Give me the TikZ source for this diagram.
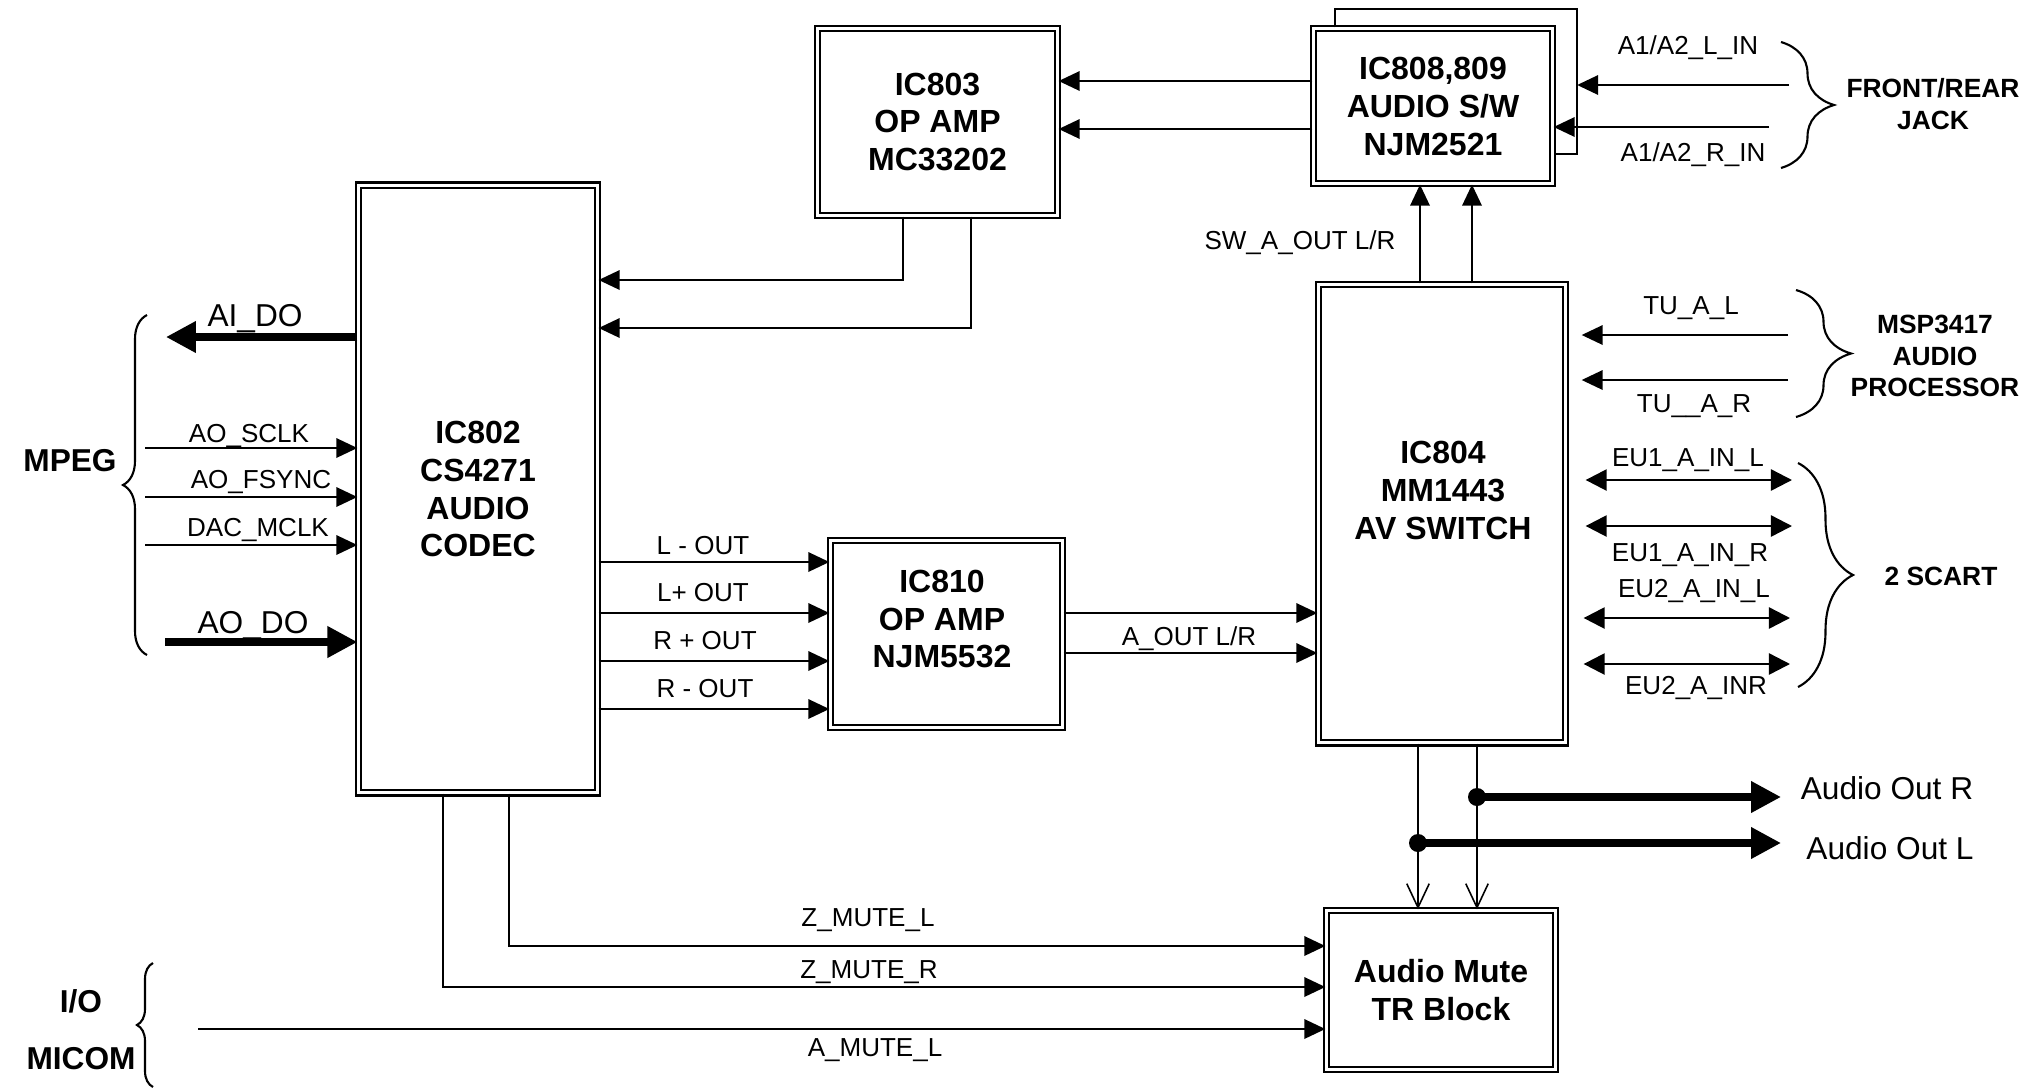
\documentclass[tikz,border=0pt]{standalone}
\usepackage{fontspec}
\setmainfont{Liberation Sans}
\usetikzlibrary{calc, positioning}
\usetikzlibrary{arrows.meta}
\usetikzlibrary{decorations.pathreplacing}

\tikzset{
  boxic/.style={draw, double, line width=0.6pt, double distance=1pt, inner sep=0pt,
    align=center, font=\bfseries\fontsize{9.1}{10.8}\selectfont},
  boxname/.style={align=center, inner sep=0pt, font=\bfseries\fontsize{9.1}{10.8}\selectfont},
  grplbl/.style={align=center, inner sep=0pt, font=\bfseries\fontsize{7.5}{8.9}\selectfont},
  sidelbl/.style={inner sep=0pt, font=\bfseries\fontsize{9}{10.8}\selectfont, text height=6.5pt, text depth=0pt},
  siglbl/.style={inner sep=0pt, font=\fontsize{7.4}{8.9}\selectfont, text height=5.3pt, text depth=0pt},
  biglbl/.style={inner sep=0pt, font=\fontsize{9}{10.8}\selectfont, text height=6.5pt, text depth=0pt},
  sigarr/.style={line width=0.7pt, -{Triangle[length=6pt,width=5.5pt]}},
  duplex/.style={line width=0.7pt, {Triangle[length=6pt,width=6pt]}-{Triangle[length=6pt,width=6pt]}},
  busarr/.style={line width=2pt, -{Triangle[length=8.5pt,width=8.5pt]}},
  taparr/.style={line width=0.45pt, -{Straight Barb[length=6.8pt,width=6.4pt]}},
  junction/.style={circle, fill, inner sep=0pt, minimum size=0.18cm},
  brc/.style={line width=0.6pt, decorate, decoration={brace, amplitude=#1}},
}

\begin{document}
\begin{tikzpicture}[x=0.01cm, y=-0.01cm]
\useasboundingbox (0,0) rectangle (2032,1087);

\node[boxic, minimum width=2.39cm, minimum height=6.07cm] (ic802) at (478,489) {IC802\\CS4271\\AUDIO\\CODEC};
\node[boxic, minimum width=2.40cm, minimum height=1.87cm] (ic803) at (937.5,122) {IC803\\OP AMP\\MC33202};
\node[boxic, minimum width=2.39cm, minimum height=1.55cm] (ic808) at (1433,106) {IC808,809\\AUDIO S/W\\NJM2521};
\node[boxic, minimum width=2.47cm, minimum height=4.58cm] (ic804) at (1442,513.5) {};
\node[boxname] (ic804t) at (1443,490) {IC804\\MM1443\\AV SWITCH};
\node[boxic, minimum width=2.32cm, minimum height=1.87cm] (ic810) at (946.5,634) {};
\node[boxname] (ic810t) at (942,619) {IC810\\OP AMP\\NJM5532};
\node[boxic, minimum width=2.29cm, minimum height=1.59cm] (mute) at (1441,990) {Audio Mute\\TR Block};

\coordinate (ic809ne) at ($(ic808.north east)+(23.5,-18.5)$);
\draw[line width=0.6pt] ($(ic808.north west)+(23,0)$) |- (ic809ne) |- ($(ic808.east)+(0,48)$);

\coordinate (aido) at (166,337);
\coordinate (sclk) at (145,448);
\coordinate (fsync) at (145,497);
\coordinate (mclk) at (145,545);
\coordinate (aodo) at (165,642);
\draw[busarr] (ic802.west |- aido) -- (aido);
\draw[sigarr] (sclk) -- (ic802.west |- sclk);
\draw[sigarr] (fsync) -- (ic802.west |- fsync);
\draw[sigarr] (mclk) -- (ic802.west |- mclk);
\draw[busarr] (aodo) -- (ic802.west |- aodo);
\node[biglbl] (laido) at (255,315) {AI\_DO};
\node[siglbl] (lsclk) at (249,433) {AO\_SCLK};
\node[siglbl] (lfsync) at (261,479) {AO\_FSYNC};
\node[siglbl] (lmclk) at (258,527) {DAC\_MCLK};
\node[biglbl] (laodo) at (253,622) {AO\_DO};
\draw[brc=0.24cm] (147,655) -- (147,315);
\node[sidelbl] (mpeg) at (70,460) {MPEG};

\coordinate (fbl) at (903,280);
\coordinate (fbr) at (971,328);
\draw[sigarr] (ic803.south -| fbl) |- (ic802.east |- fbl);
\draw[sigarr] (ic803.south -| fbr) |- (ic802.east |- fbr);

\coordinate (swo1) at (1200,81);
\coordinate (swo2) at (1200,129);
\draw[sigarr] (ic808.west |- swo1) -- (ic803.east |- swo1);
\draw[sigarr] (ic808.west |- swo2) -- (ic803.east |- swo2);

\coordinate (swa) at (1420,240);
\coordinate (swb) at (1472,240);
\draw[sigarr] (ic804.north -| swa) -- (ic808.south -| swa);
\draw[sigarr] (ic804.north -| swb) -- (ic808.south -| swb);
\node[siglbl] (lsw) at (1300,240) {SW\_A\_OUT L/R};

\coordinate (jackl) at (1789,85);
\coordinate (jackr) at (1769,127);
\draw[sigarr] (jackl) -- (jackl -| ic809ne);
\draw[sigarr] (jackr) -- (ic808.east |- jackr);
\node[siglbl] (ljackl) at (1688,45) {A1/A2\_L\_IN};
\node[siglbl] (ljackr) at (1693,152) {A1/A2\_R\_IN};
\draw[brc=0.53cm] (1781,42) -- (1781,168);
\node[grplbl] (jack) at (1933,104) {FRONT/REAR\\JACK};

\coordinate (tul) at (1788,335);
\coordinate (tur) at (1788,380);
\draw[sigarr, shorten >=0.15cm] (tul) -- (ic804.east |- tul);
\draw[sigarr, shorten >=0.15cm] (tur) -- (ic804.east |- tur);
\node[siglbl] (ltul) at (1691,305) {TU\_A\_L};
\node[siglbl] (ltur) at (1694,403) {TU\_\_A\_R};
\draw[brc=0.55cm] (1796,290) -- (1796,417);
\node[grplbl] (msp) at (1935,356) {MSP3417\\AUDIO\\PROCESSOR};

\coordinate (eu1l) at (1792,480);
\coordinate (eu1r) at (1792,526);
\coordinate (eu2l) at (1790,618);
\coordinate (eu2r) at (1790,664);
\draw[duplex, shorten >=0.19cm] (eu1l) -- (ic804.east |- eu1l);
\draw[duplex, shorten >=0.19cm] (eu1r) -- (ic804.east |- eu1r);
\draw[duplex, shorten >=0.17cm] (eu2l) -- (ic804.east |- eu2l);
\draw[duplex, shorten >=0.17cm] (eu2r) -- (ic804.east |- eu2r);
\node[siglbl] (leu1l) at (1688,457) {EU1\_A\_IN\_L};
\node[siglbl] (leu1r) at (1690,552) {EU1\_A\_IN\_R};
\node[siglbl] (leu2l) at (1694,588) {EU2\_A\_IN\_L};
\node[siglbl] (leu2r) at (1696,685) {EU2\_A\_INR};
\draw[brc=0.55cm] (1798,463) -- (1798,687);
\node[grplbl] (scart) at (1941,576) {2 SCART};

\coordinate (lmo) at (600,562);
\coordinate (lpo) at (600,613);
\coordinate (rpo) at (600,661);
\coordinate (rmo) at (600,709);
\draw[sigarr] (ic802.east |- lmo) -- (ic810.west |- lmo);
\draw[sigarr] (ic802.east |- lpo) -- (ic810.west |- lpo);
\draw[sigarr] (ic802.east |- rpo) -- (ic810.west |- rpo);
\draw[sigarr] (ic802.east |- rmo) -- (ic810.west |- rmo);
\node[siglbl] (llmo) at (703,545) {L - OUT};
\node[siglbl] (llpo) at (703,592) {L+ OUT};
\node[siglbl] (lrpo) at (705,640) {R + OUT};
\node[siglbl] (lrmo) at (705,688) {R - OUT};

\coordinate (aoutl) at (1067,613);
\coordinate (aoutr) at (1067,653);
\draw[sigarr] (ic810.east |- aoutl) -- (ic804.west |- aoutl);
\draw[sigarr] (ic810.east |- aoutr) -- (ic804.west |- aoutr);
\node[siglbl] (laout) at (1189,636) {A\_OUT L/R};

\coordinate (outr) at (1781,797);
\coordinate (outl) at (1781,843);
\node[junction] (dotr) at (1477,797) {};
\node[junction] (dotl) at (1418,843) {};
\draw[taparr] (ic804.south -| dotl) -- (mute.north -| dotl);
\draw[taparr] (ic804.south -| dotr) -- (mute.north -| dotr);
\draw[busarr] (dotr.center) -- (outr);
\draw[busarr] (dotl.center) -- (outl);
\node[biglbl] (laudr) at (1887,788) {Audio Out R};
\node[biglbl] (laudl) at (1890,848) {Audio Out L};

\coordinate (zml) at (509,946);
\coordinate (zmr) at (443,987);
\coordinate (amute) at (198,1029);
\draw[sigarr] (ic802.south -| zml) |- (mute.west |- zml);
\draw[sigarr] (ic802.south -| zmr) |- (mute.west |- zmr);
\draw[sigarr] (amute) -- (mute.west |- amute);
\node[siglbl] (lzml) at (868,917) {Z\_MUTE\_L};
\node[siglbl] (lzmr) at (869,969) {Z\_MUTE\_R};
\node[siglbl] (lamute) at (875,1047) {A\_MUTE\_L};
\draw[brc=0.16cm] (153,1087) -- (153,963);
\node[sidelbl] (io) at (81,1001) {I/O};
\node[sidelbl] (micom) at (81,1058) {MICOM};
\end{tikzpicture}
\end{document}
